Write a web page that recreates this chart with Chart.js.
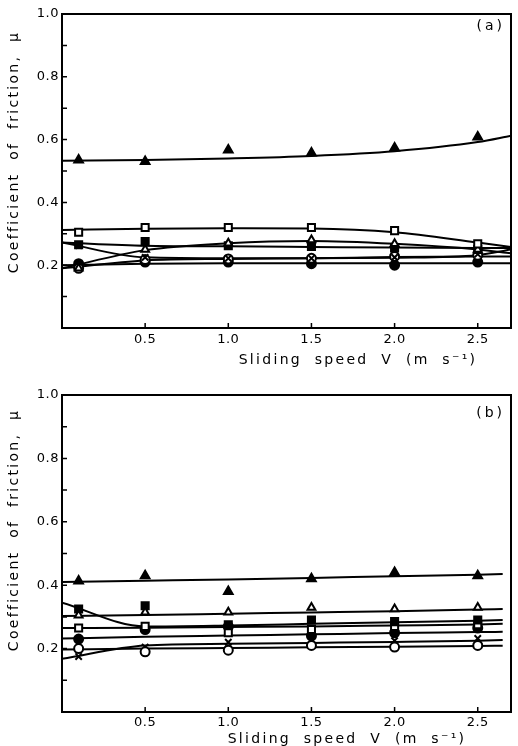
<!DOCTYPE html>
<html>
<head>
<meta charset="utf-8">
<script src="https://cdn.jsdelivr.net/npm/chart.js@4.4.0/dist/chart.umd.min.js"></script>
<style>
  body { margin: 0; background: #fff; }
  canvas { display: block; }
</style>
</head>
<body>
<canvas id="chartA" width="518" height="373"></canvas>
<canvas id="chartB" width="518" height="373"></canvas>
<script>
// sliding speeds of the measured points (m/s)
const speeds = [0.1, 0.5, 1.0, 1.5, 2.0, 2.5];
// speeds used for the drawn-in fitted curves
const fitSpeedsA = [0, 0.5, 1.0, 1.5, 2.0, 2.5, 2.7];
const fitSpeedsB = [0, 0.5, 1.0, 1.5, 2.0, 2.5, 2.65];

const yTitle = 'Coefficient of friction, \u03bc';
const xTitle = 'Sliding speed V (m s\u207b\u00b9)';

// panel (a)
const a_filledTri    = [0.535, 0.53, 0.567, 0.557, 0.573, 0.608];
const a_filledTriFit = [0.533, 0.535, 0.54, 0.548, 0.563, 0.592, 0.612];
const a_openSq       = [0.305, 0.32, 0.32, 0.32, 0.31, 0.268];
const a_openSqFit    = [0.312, 0.316, 0.318, 0.317, 0.305, 0.272, 0.258];
const a_openTri      = [0.19, 0.25, 0.27, 0.28, 0.268, 0.25];
const a_openTriFit   = [0.19, 0.248, 0.27, 0.277, 0.268, 0.25, 0.238];
const a_filledSq     = [0.265, 0.275, 0.262, 0.26, 0.255, 0.25];
const a_filledSqFit  = [0.272, 0.262, 0.26, 0.258, 0.256, 0.255, 0.255];
const a_cross        = [0.262, 0.225, 0.222, 0.222, 0.225, 0.235];
const a_crossFit     = [0.272, 0.225, 0.222, 0.222, 0.224, 0.232, 0.25];
const a_openCir      = [0.19, 0.218, 0.22, 0.222, 0.228, 0.232];
const a_openCirFit   = [0.19, 0.215, 0.22, 0.222, 0.226, 0.228, 0.228];
const a_filledCir    = [0.205, 0.21, 0.21, 0.205, 0.2, 0.21];
const a_filledCirFit = [0.2, 0.205, 0.206, 0.206, 0.206, 0.206, 0.206];

// panel (b)
const b_filledTri    = [0.413, 0.43, 0.38, 0.42, 0.44, 0.43];
const b_filledTriFit = [0.41, 0.414, 0.418, 0.423, 0.428, 0.433, 0.435];
const b_openTri      = [0.305, 0.315, 0.315, 0.33, 0.325, 0.33];
const b_openTriFit   = [0.303, 0.306, 0.31, 0.314, 0.318, 0.323, 0.325];
const b_filledSq     = [0.325, 0.335, 0.275, 0.29, 0.285, 0.29];
const b_filledSqFit  = [0.345, 0.27, 0.273, 0.278, 0.283, 0.288, 0.29];
const b_openSq       = [0.265, 0.27, 0.25, 0.26, 0.27, 0.275];
const b_openSqFit    = [0.265, 0.266, 0.268, 0.27, 0.273, 0.276, 0.278];
const b_filledCir    = [0.23, 0.26, 0.27, 0.24, 0.25, 0.265];
const b_filledCirFit = [0.232, 0.237, 0.241, 0.245, 0.249, 0.252, 0.253];
const b_openCir      = [0.2, 0.19, 0.195, 0.21, 0.205, 0.21];
const b_openCirFit   = [0.197, 0.2, 0.202, 0.204, 0.206, 0.208, 0.209];
const b_cross        = [0.175, 0.205, 0.22, 0.222, 0.225, 0.232];
const b_crossFit     = [0.168, 0.21, 0.215, 0.218, 0.221, 0.225, 0.227];

Chart.defaults.font.family = '"DejaVu Sans", sans-serif';
Chart.defaults.color = '#000';

const styles = {
  filledTri: { pointStyle: 'triangle', r: 5, bg: '#000' },
  openTri:   { pointStyle: 'triangle', r: 4.5, bg: '#fff' },
  filledSq:  { pointStyle: 'rect', r: 5, bg: '#000' },
  openSq:    { pointStyle: 'rect', r: 5, bg: '#fff' },
  filledCir: { pointStyle: 'circle', r: 4.5, bg: '#000' },
  openCir:   { pointStyle: 'circle', r: 4.5, bg: '#fff' },
  cross:     { pointStyle: 'crossRot', r: 4.5, bg: '#000' }
};

function pts(xs, ys) {
  return xs.map((x, i) => ({ x: x, y: ys[i] }));
}

function makeDatasets(series, fitXs) {
  const out = [];
  series.forEach(s => {
    const st = styles[s.marker];
    out.push({
      data: pts(speeds, s.values),
      showLine: false,
      pointStyle: st.pointStyle,
      pointRadius: st.r,
      pointBackgroundColor: st.bg,
      pointBorderColor: '#000',
      pointBorderWidth: 2,
      order: 0
    });
    out.push({
      data: pts(fitXs, s.fit),
      showLine: true,
      pointRadius: 0,
      borderColor: '#000',
      borderWidth: 2,
      cubicInterpolationMode: 'monotone',
      order: 1
    });
  });
  return out;
}

// frame box, inward ticks, axis titles and panel letter
const panelPlugin = {
  id: 'panel',
  beforeDraw(chart) {
    chart.ctx.letterSpacing = '0.5px';
  },
  afterDraw(chart, args, o) {
    const { ctx, chartArea: a, scales } = chart;
    ctx.save();
    ctx.strokeStyle = '#000';
    ctx.lineWidth = 2;
    ctx.strokeRect(a.left, a.top, a.right - a.left, a.bottom - a.top);
    ctx.lineWidth = 1.5;
    ctx.beginPath();
    scales.y.ticks.forEach(t => {
      if (t.value <= 0 || t.value >= 0.99) return;
      const p = scales.y.getPixelForValue(t.value);
      ctx.moveTo(a.left, p);
      ctx.lineTo(a.left + 5, p);
    });
    scales.x.ticks.forEach(t => {
      if (t.value <= 0) return;
      const p = scales.x.getPixelForValue(t.value);
      ctx.moveTo(p, a.bottom);
      ctx.lineTo(p, a.bottom - 5);
    });
    ctx.stroke();

    ctx.fillStyle = '#000';
    ctx.textBaseline = 'middle';
    ctx.font = '14px "DejaVu Sans"';
    ctx.letterSpacing = '3px';
    ctx.textAlign = 'right';
    ctx.fillText(o.label, a.right - 6, o.labelY);

    ctx.letterSpacing = '2.3px';
    ctx.wordSpacing = '6px';
    ctx.textAlign = 'center';
    ctx.fillText(xTitle, o.xTitleX, o.xTitleY);
    ctx.translate(o.yTitleX, o.yTitleY);
    ctx.rotate(-Math.PI / 2);
    ctx.fillText(yTitle, 0, 0);
    ctx.restore();
  }
};

function makeOptions(cfg) {
  return {
    responsive: false,
    animation: false,
    layout: { padding: { top: cfg.top, right: cfg.right, left: 0, bottom: 0 } },
    plugins: {
      legend: { display: false },
      tooltip: { enabled: false },
      panel: cfg.panel
    },
    scales: {
      x: {
        type: 'linear', min: 0, max: 2.7,
        border: { display: false },
        grid: { display: false, drawTicks: false },
        afterFit: s => { s.height = cfg.xHeight; },
        ticks: {
          stepSize: 0.5, includeBounds: false, autoSkip: false,
          padding: cfg.xPad, font: { size: 13 },
          callback: v => v > 0 ? v.toFixed(1) : ''
        }
      },
      y: {
        type: 'linear', min: 0, max: 1,
        border: { display: false },
        grid: { display: false, drawTicks: false },
        afterFit: s => { s.width = 62; },
        ticks: {
          stepSize: 0.1, autoSkip: false, padding: 3, font: { size: 13 },
          callback: v => {
            const k = Math.round(v * 10);
            return (k > 0 && k % 2 === 0) ? (k / 10).toFixed(1) : '';
          }
        }
      }
    }
  };
}

const seriesA = [
  { marker: 'filledTri', values: a_filledTri, fit: a_filledTriFit },
  { marker: 'openSq', values: a_openSq, fit: a_openSqFit },
  { marker: 'openTri', values: a_openTri, fit: a_openTriFit },
  { marker: 'filledSq', values: a_filledSq, fit: a_filledSqFit },
  { marker: 'cross', values: a_cross, fit: a_crossFit },
  { marker: 'openCir', values: a_openCir, fit: a_openCirFit },
  { marker: 'filledCir', values: a_filledCir, fit: a_filledCirFit }
];

const seriesB = [
  { marker: 'filledTri', values: b_filledTri, fit: b_filledTriFit },
  { marker: 'openTri', values: b_openTri, fit: b_openTriFit },
  { marker: 'filledSq', values: b_filledSq, fit: b_filledSqFit },
  { marker: 'openSq', values: b_openSq, fit: b_openSqFit },
  { marker: 'filledCir', values: b_filledCir, fit: b_filledCirFit },
  { marker: 'openCir', values: b_openCir, fit: b_openCirFit },
  { marker: 'cross', values: b_cross, fit: b_crossFit }
];

new Chart(document.getElementById('chartA'), {
  type: 'scatter',
  data: { datasets: makeDatasets(seriesA, fitSpeedsA) },
  options: makeOptions({
    top: 14, right: 6, xHeight: 45, xPad: 4,
    panel: { label: '(a)', labelY: 26, xTitleX: 358, xTitleY: 360, yTitleX: 14, yTitleY: 152 }
  }),
  plugins: [panelPlugin]
});

new Chart(document.getElementById('chartB'), {
  type: 'scatter',
  data: { datasets: makeDatasets(seriesB, fitSpeedsB) },
  options: makeOptions({
    top: 22, right: 4, xHeight: 34, xPad: 3,
    panel: { label: '(b)', labelY: 40, xTitleX: 347, xTitleY: 366, yTitleX: 14, yTitleY: 157 }
  }),
  plugins: [panelPlugin]
});
</script>
</body>
</html>
